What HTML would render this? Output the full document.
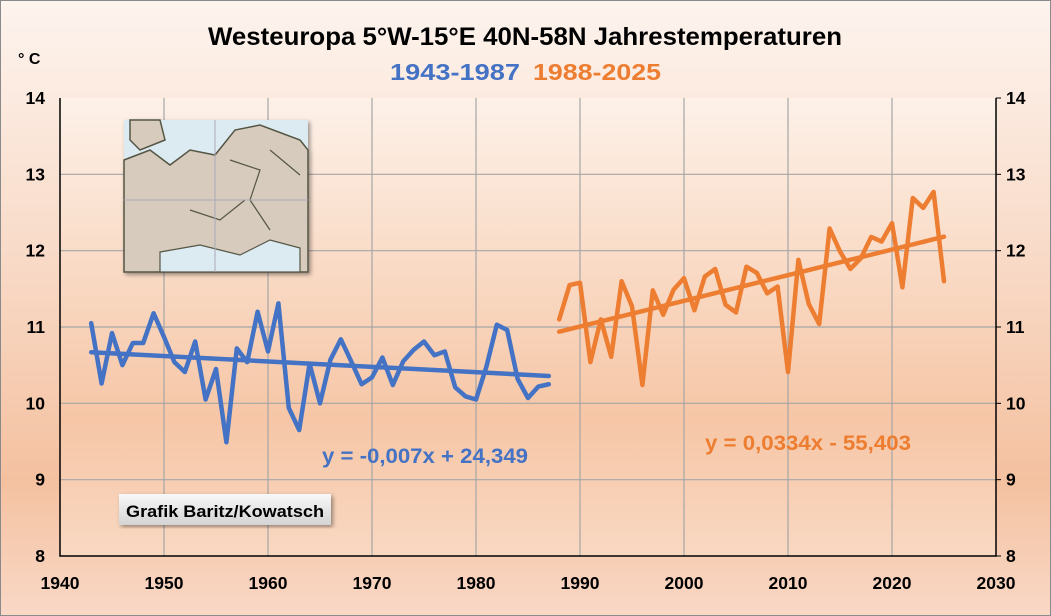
<!DOCTYPE html>
<html><head><meta charset="utf-8"><style>
body{margin:0;width:1051px;height:616px;overflow:hidden;font-family:"Liberation Sans",sans-serif}
#wrap{position:absolute;left:0;top:0;width:1049px;height:614px;border:1px solid #8a8a8a;background:linear-gradient(#fdf4ee 0%,#f8d8c4 45%,#f4c1a0 78%,#f9d8c6 100%)}
svg{position:absolute;left:0;top:0}
</style></head><body>
<div id="wrap"></div>
<svg id="chart" width="1051" height="616">
<defs>
<linearGradient id="pg" x1="0" y1="0" x2="0" y2="1"><stop offset="0" stop-color="#fdf1e8"/><stop offset="0.7" stop-color="#f6c6a6"/><stop offset="1" stop-color="#f9d8c2"/></linearGradient>
<linearGradient id="lg" x1="0" y1="0" x2="0" y2="1"><stop offset="0" stop-color="#f8f8f8"/><stop offset="1" stop-color="#d4d4d4"/></linearGradient>
<filter id="sh"><feDropShadow dx="2" dy="2" stdDeviation="2" flood-opacity="0.4"/></filter>
</defs>
<rect x="60" y="98" width="936" height="458" fill="url(#pg)"/>
<g id="grid"></g>
<g id="axes"></g>
<text x="208" y="45" font-size="25" font-weight="bold" textLength="634" lengthAdjust="spacingAndGlyphs" fill="#000">Westeuropa 5°W-15°E 40N-58N Jahrestemperaturen</text>
<text x="390" y="80" font-size="23" font-weight="bold" textLength="130" lengthAdjust="spacingAndGlyphs" fill="#4472c4">1943-1987</text>
<text x="533" y="80" font-size="23" font-weight="bold" textLength="128" lengthAdjust="spacingAndGlyphs" fill="#ed7d31">1988-2025</text>
<text x="18" y="64" font-size="16" font-weight="bold">° C</text>
<g filter="url(#sh)">
<rect x="124" y="120" width="184" height="152" fill="#dcebf2"/>
<path d="M124,160 L150,150 L170,165 L190,150 L215,155 L235,130 L260,125 L300,140 L308,150 L308,272 L124,272 Z" fill="#d6cbbd" stroke="#554" stroke-width="1.5"/>
<path d="M130,120 L160,120 L165,140 L140,150 L130,140 Z" fill="#d6cbbd" stroke="#554" stroke-width="1.5"/>
<path d="M160,252 L200,245 L240,255 L270,240 L300,248 L300,272 L160,272 Z" fill="#dcebf2" stroke="#554" stroke-width="1.2"/>
<path d="M230,160 L260,170 L250,200 L270,230 M190,210 L220,220 L245,200 M270,150 L300,175" fill="none" stroke="#554" stroke-width="1.2"/>
<path d="M124,200 L308,200 M215,120 L215,272" stroke="#aab" stroke-width="1" fill="none"/>
</g>
<g filter="url(#sh)">
<rect x="119" y="494" width="212" height="31" fill="url(#lg)"/>
<text x="126" y="517" font-size="17" font-weight="bold" textLength="198" lengthAdjust="spacingAndGlyphs">Grafik Baritz/Kowatsch</text>
</g>
<g id="series"></g>
<text x="322" y="463" font-size="21" font-weight="bold" textLength="206" lengthAdjust="spacingAndGlyphs" fill="#4472c4">y = -0,007x + 24,349</text>
<text x="705" y="450" font-size="21" font-weight="bold" textLength="206" lengthAdjust="spacingAndGlyphs" fill="#ed7d31">y = 0,0334x - 55,403</text>
</svg>
<script>
const xTicks=[1940,1950,1960,1970,1980,1990,2000,2010,2020,2030];
const yTicks=[8,9,10,11,12,13,14];
const years1=[1943,1944,1945,1946,1947,1948,1949,1950,1951,1952,1953,1954,1955,1956,1957,1958,1959,1960,1961,1962,1963,1964,1965,1966,1967,1968,1969,1970,1971,1972,1973,1974,1975,1976,1977,1978,1979,1980,1981,1982,1983,1984,1985,1986,1987];
const temps1=[11.05,10.26,10.92,10.5,10.79,10.79,11.18,10.87,10.54,10.41,10.81,10.05,10.45,9.49,10.72,10.54,11.2,10.68,11.31,9.94,9.65,10.52,10.0,10.57,10.84,10.55,10.25,10.34,10.6,10.24,10.55,10.7,10.81,10.63,10.68,10.21,10.09,10.05,10.48,11.03,10.96,10.32,10.07,10.22,10.25];
const years2=[1988,1989,1990,1991,1992,1993,1994,1995,1996,1997,1998,1999,2000,2001,2002,2003,2004,2005,2006,2007,2008,2009,2010,2011,2012,2013,2014,2015,2016,2017,2018,2019,2020,2021,2022,2023,2024,2025];
const temps2=[11.1,11.55,11.58,10.54,11.1,10.61,11.6,11.27,10.24,11.48,11.16,11.49,11.64,11.22,11.66,11.76,11.29,11.19,11.79,11.71,11.44,11.53,10.41,11.88,11.3,11.04,12.29,11.99,11.76,11.9,12.18,12.12,12.36,11.52,12.69,12.56,12.77,11.6];
const NS='http://www.w3.org/2000/svg';
const X=y=>60+(y-1940)*(936/90);
const Y=v=>556-(v-8)*(458/6);
function mk(tag,attrs,parent,txt){const e=document.createElementNS(NS,tag);for(const k in attrs)e.setAttribute(k,attrs[k]);if(txt!==undefined)e.textContent=txt;parent.appendChild(e);return e;}
const grid=document.getElementById('grid'),axes=document.getElementById('axes'),ser=document.getElementById('series');
xTicks.forEach(t=>{
  if(t>1940&&t<2030){const l=mk('line',{x1:X(t),x2:X(t),y1:98,y2:556,stroke:'#a6a6a6','stroke-width':1.2},grid);
  
  }
  const tx=mk('text',{x:X(t),y:589,'font-size':17.5,'font-weight':'bold','text-anchor':'middle'},axes,t);
  
  
});
yTicks.forEach(t=>{
  if(t>8&&t<14){const l=mk('line',{x1:60,x2:996,y1:Y(t),y2:Y(t),stroke:'#a6a6a6','stroke-width':1.2},grid);
  
  }
  const a=mk('text',{x:45,y:Y(t)+6,'font-size':17.5,'font-weight':'bold','text-anchor':'end'},axes,t);
  
  
  const b=mk('text',{x:1006,y:Y(t)+6,'font-size':17.5,'font-weight':'bold'},axes,t);
  
  
  const tk=mk('line',{x1:996,x2:1001,y1:Y(t),y2:Y(t),stroke:'#000'},axes);
  
  
});
const ax=mk('path',{d:'M60,98 L60,556 L996,556 L996,98',fill:'none',stroke:'#000','stroke-width':1.5},axes);


function reg(xs,ys){const n=xs.length;let sx=0,sy=0,sxx=0,sxy=0;for(let i=0;i<n;i++){sx+=xs[i];sy+=ys[i];sxx+=xs[i]*xs[i];sxy+=xs[i]*ys[i];}const m=(n*sxy-sx*sy)/(n*sxx-sx*sx);return [m,(sy-m*sx)/n];}
function draw(xs,ys,col,name){
  const p=mk('polyline',{points:xs.map((x,i)=>X(x)+','+Y(ys[i])).join(' '),fill:'none',stroke:col,'stroke-width':4.5,'stroke-linejoin':'round','stroke-linecap':'round'},ser);
  
  
  const [m,b]=reg(xs,ys);const x0=xs[0],x1=xs[xs.length-1];
  const t=mk('line',{x1:X(x0),y1:Y(m*x0+b),x2:X(x1),y2:Y(m*x1+b),stroke:col,'stroke-width':4.5,'stroke-linecap':'round'},ser);
  
  
}
draw(years1,temps1,'#4472c4','series-1943-1987');
draw(years2,temps2,'#ed7d31','series-1988-2025');
</script>
</body></html>
